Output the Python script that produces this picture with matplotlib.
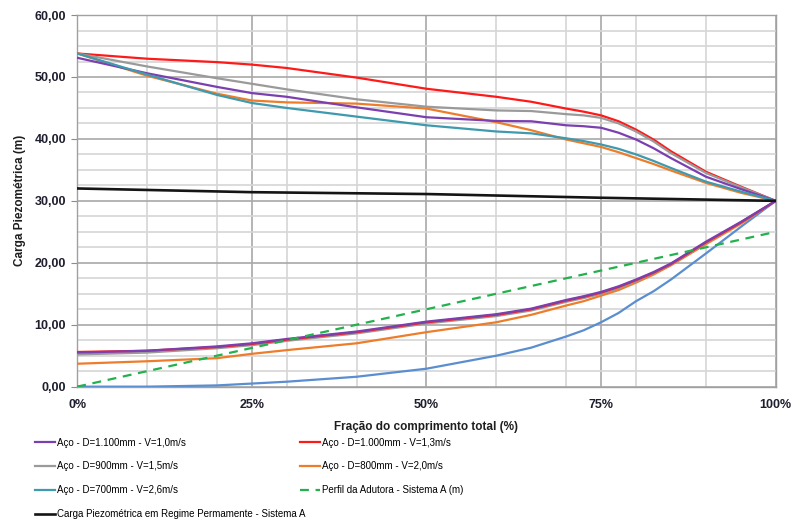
import matplotlib
matplotlib.use("Agg")
import matplotlib.pyplot as plt
from matplotlib.ticker import MultipleLocator, FuncFormatter

plt.rcParams['font.family'] = ['Liberation Sans', 'DejaVu Sans']

# Fraction of total length (%)
x_pct = [0, 10, 20, 25, 30, 40, 50, 60, 65, 70, 72.5, 75, 77.5, 80, 82.5, 85, 90, 95, 100]

# Upper envelopes (m)
up_d1100 = [53.1, 50.6, 48.4, 47.4, 46.8, 45.1, 43.5, 42.9, 42.85, 42.2, 42.05, 41.8, 41.0, 39.9, 38.5, 36.9, 33.9, 31.9, 30.0]
up_d1000 = [53.8, 52.95, 52.4, 52.0, 51.45, 49.9, 48.1, 46.8, 46.0, 44.9, 44.4, 43.8, 42.85, 41.5, 39.9, 38.0, 34.7, 32.3, 30.0]
up_d900 = [53.8, 51.7, 49.8, 48.9, 48.0, 46.4, 45.2, 44.6, 44.5, 44.0, 43.8, 43.4, 42.5, 41.2, 39.6, 37.7, 34.5, 32.2, 30.0]
up_d800 = [53.8, 50.2, 47.3, 46.2, 45.9, 45.7, 44.9, 42.7, 41.4, 39.9, 39.3, 38.7, 37.85, 36.9, 35.95, 34.9, 32.9, 31.3, 30.0]
up_d700 = [53.8, 50.4, 47.1, 45.8, 45.0, 43.6, 42.2, 41.2, 40.9, 40.1, 39.65, 39.1, 38.4, 37.5, 36.45, 35.3, 33.1, 31.5, 30.0]

# Lower envelopes (m)
lo_d1100 = [5.5, 5.8, 6.5, 7.0, 7.7, 8.9, 10.5, 11.7, 12.6, 14.0, 14.6, 15.3, 16.2, 17.3, 18.5, 19.9, 23.4, 26.6, 30.0]
lo_d1000 = [5.6, 5.8, 6.4, 6.9, 7.6, 8.8, 10.4, 11.6, 12.5, 13.9, 14.5, 15.2, 16.1, 17.2, 18.4, 19.8, 23.3, 26.5, 30.0]
lo_d900 = [5.2, 5.5, 6.2, 6.7, 7.4, 8.6, 10.2, 11.4, 12.3, 13.7, 14.3, 15.0, 15.9, 17.0, 18.3, 19.7, 23.2, 26.5, 30.0]
lo_d800 = [3.7, 4.1, 4.6, 5.3, 5.9, 7.0, 8.8, 10.4, 11.6, 13.1, 13.8, 14.7, 15.6, 16.8, 18.1, 19.6, 23.0, 26.3, 30.0]
lo_d700 = [0.0, 0.0, 0.2, 0.5, 0.8, 1.6, 2.9, 5.0, 6.3, 8.1, 9.1, 10.4, 11.9, 13.8, 15.4, 17.3, 21.5, 25.8, 30.0]

# Steady-state piezometric head
steady_x = [0, 25, 50, 75, 100]
steady_y = [32.0, 31.4, 31.1, 30.5, 30.0]

# Pipeline profile
profile_x = [0, 100]
profile_y = [0.0, 25.0]

labels = [
    "Aço - D=1.100mm - V=1,0m/s",
    "Aço - D=1.000mm - V=1,3m/s",
    "Aço - D=900mm - V=1,5m/s",
    "Aço - D=800mm - V=2,0m/s",
    "Aço - D=700mm - V=2,6m/s",
    "Perfil da Adutora - Sistema A (m)",
    "Carga Piezométrica em Regime Permamente - Sistema A",
]

c_purple = "#7B3FB0"
c_red = "#FF1A1A"
c_gray = "#9A9A9A"
c_orange = "#EE7D2B"
c_teal = "#3F9AAE"
c_blue = "#5A8ED0"
c_green = "#22B14C"
c_black = "#151515"

fig = plt.figure(figsize=(7.92, 5.19), dpi=100)
ax = fig.add_axes([0.0975, 0.255, 0.882, 0.716])

lw = 1.6
h_purple, = ax.plot(x_pct, up_d1100, color=c_purple, lw=lw, zorder=5)
h_red, = ax.plot(x_pct, up_d1000, color=c_red, lw=lw, zorder=3)
h_gray, = ax.plot(x_pct, up_d900, color=c_gray, lw=lw, zorder=4)
h_orange, = ax.plot(x_pct, up_d800, color=c_orange, lw=lw, zorder=4)
h_teal, = ax.plot(x_pct, up_d700, color=c_teal, lw=lw, zorder=5)

ax.plot(x_pct, lo_d700, color=c_blue, lw=lw, zorder=3)
ax.plot(x_pct, lo_d800, color=c_orange, lw=lw, zorder=4)
ax.plot(x_pct, lo_d900, color=c_gray, lw=lw, zorder=4)
ax.plot(x_pct, lo_d1000, color=c_red, lw=lw, zorder=5)
ax.plot(x_pct, lo_d1100, color=c_purple, lw=lw, zorder=5)

h_green, = ax.plot(profile_x, profile_y, color=c_green, lw=lw, ls=(0, (4, 3)), zorder=6)
h_black, = ax.plot(steady_x, steady_y, color=c_black, lw=lw + 0.3, zorder=6)

ax.set_xlim(0, 100)
ax.set_ylim(0, 60)
ax.xaxis.set_major_locator(MultipleLocator(25))
ax.xaxis.set_minor_locator(MultipleLocator(10))
ax.yaxis.set_major_locator(MultipleLocator(10))
ax.yaxis.set_minor_locator(MultipleLocator(2.5))
ax.xaxis.set_major_formatter(FuncFormatter(lambda v, p: f"{int(v)}%"))
ax.yaxis.set_major_formatter(FuncFormatter(lambda v, p: f"{v:.2f}".replace(".", ",")))

ax.grid(which="minor", color="#D6D6D6", lw=1.2, zorder=0)
ax.grid(which="major", color="#A8A8A8", lw=1.2, zorder=1)
ax.set_axisbelow(True)
for s in ax.spines.values():
    s.set_color("#A0A0A0")
    s.set_linewidth(1.0)

ax.tick_params(axis="y", which="major", length=4, color="#8C8C8C", pad=4)
ax.tick_params(axis="x", which="major", length=0, pad=9)
ax.tick_params(which="minor", length=0)
for t in ax.get_xticklabels() + ax.get_yticklabels():
    t.set_fontweight("bold")
    t.set_fontsize(9)
    t.set_color("#1E1E2E")

ax.set_xlabel("Fração do comprimento total (%)", fontsize=8.5, fontweight="bold",
              color="#1E1E1E", labelpad=7)
ax.set_ylabel("Carga Piezométrica (m)", fontsize=8.5, fontweight="bold",
              color="#1E1E1E", labelpad=6)

leg_kw = dict(frameon=False, fontsize=7.0, handlelength=2.05, handletextpad=0.2,
              labelspacing=1.42, borderpad=0, borderaxespad=0, loc="upper left")
leg1 = fig.legend([h_purple, h_gray, h_teal, h_black],
                  [labels[0], labels[2], labels[4], labels[6]],
                  bbox_to_anchor=(35 / 792, 1 - 437.5 / 519), **leg_kw)
leg2 = fig.legend([h_red, h_orange, h_green],
                  [labels[1], labels[3], labels[5]],
                  bbox_to_anchor=(300 / 792, 1 - 437.5 / 519), **leg_kw)

fig.savefig("out.png", dpi=100)
